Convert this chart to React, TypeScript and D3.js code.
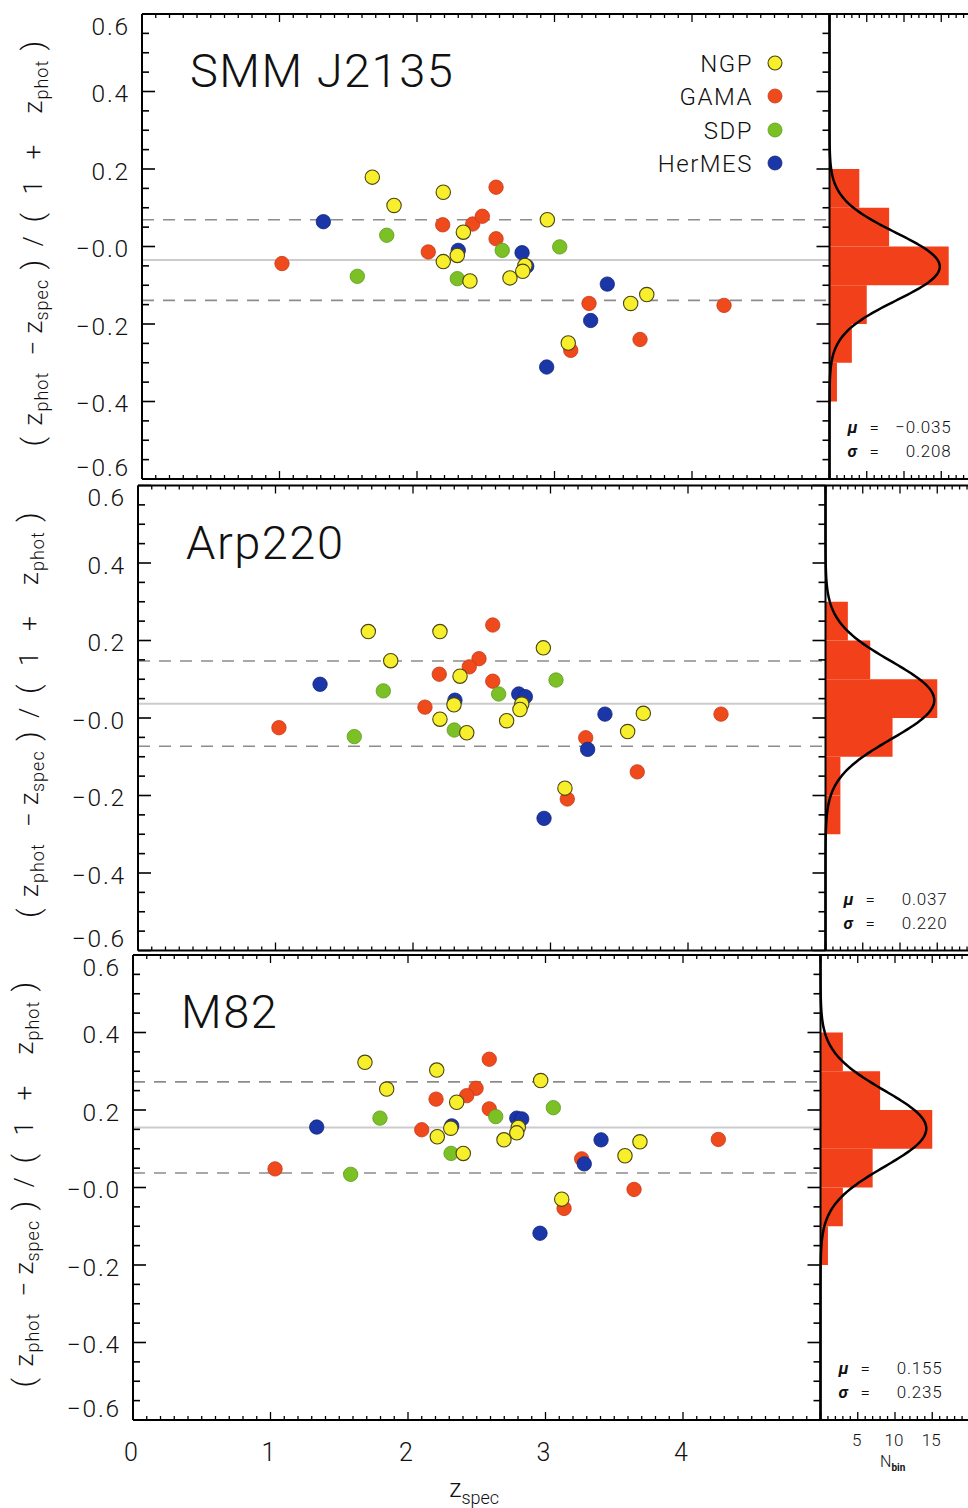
import React from "react";
import * as d3 from "d3";

// ---------- DATA (z_spec, (z_phot - z_spec)/(1+z_phot)) ----------
const smmNGP: [number, number][] = [
  [1.675, 0.179], [2.191, 0.14], [1.833, 0.106], [2.337, 0.037], [2.948, 0.069],
  [2.293, -0.023], [2.191, -0.039], [2.785, -0.049], [2.769, -0.064], [2.385, -0.089],
  [2.676, -0.081], [3.554, -0.147], [3.671, -0.124], [3.1, -0.249],
];
const smmGAMA: [number, number][] = [
  [2.575, 0.153], [2.187, 0.056], [2.405, 0.058], [2.475, 0.078], [2.575, 0.02],
  [2.082, -0.014], [1.018, -0.044], [3.251, -0.147], [4.233, -0.152], [3.622, -0.24],
  [3.118, -0.268],
];
const smmSDP: [number, number][] = [
  [1.78, 0.029], [2.62, -0.01], [3.038, -0.001], [1.566, -0.077], [2.293, -0.083],
];
const smmHerMES: [number, number][] = [
  [1.319, 0.064], [2.764, -0.016], [2.3, -0.01], [2.798, -0.051], [3.384, -0.097],
  [3.263, -0.191], [2.943, -0.311],
];

const arpNGP: [number, number][] = [
  [1.675, 0.223], [2.196, 0.223], [2.948, 0.181], [1.838, 0.148], [2.342, 0.108],
  [2.298, 0.034], [2.791, 0.036], [2.778, 0.022], [2.196, -0.003], [2.681, -0.007],
  [2.391, -0.038], [3.675, 0.012], [3.561, -0.035], [3.105, -0.181],
];
const arpGAMA: [number, number][] = [
  [2.58, 0.24], [2.48, 0.153], [2.409, 0.132], [2.191, 0.113], [2.58, 0.095],
  [2.087, 0.028], [1.025, -0.025], [4.24, 0.01], [3.256, -0.051], [3.631, -0.139],
  [3.122, -0.209],
];
const arpSDP: [number, number][] = [
  [1.784, 0.07], [3.04, 0.098], [2.623, 0.062], [2.3, -0.031], [1.573, -0.048],
];
const arpHerMES: [number, number][] = [
  [1.324, 0.087], [2.769, 0.062], [2.817, 0.055], [2.305, 0.046], [3.396, 0.01],
  [3.27, -0.081], [2.953, -0.259],
];

const m82NGP: [number, number][] = [
  [1.687, 0.323], [2.209, 0.303], [2.965, 0.276], [1.845, 0.254], [2.354, 0.22],
  [2.311, 0.153], [2.802, 0.155], [2.791, 0.141], [2.213, 0.131], [2.698, 0.123],
  [3.687, 0.118], [2.402, 0.088], [3.578, 0.082], [3.118, -0.03],
];
const m82GAMA: [number, number][] = [
  [2.591, 0.331], [2.495, 0.256], [2.427, 0.237], [2.204, 0.228], [2.591, 0.203],
  [2.1, 0.149], [4.257, 0.124], [3.263, 0.074], [1.033, 0.048], [3.644, -0.005],
  [3.135, -0.054],
];
const m82SDP: [number, number][] = [
  [3.057, 0.206], [2.638, 0.183], [1.796, 0.179], [2.313, 0.088], [1.583, 0.034],
];
const m82HerMES: [number, number][] = [
  [2.791, 0.179], [2.827, 0.177], [1.336, 0.156], [2.318, 0.159], [3.404, 0.123],
  [3.282, 0.061], [2.96, -0.118],
];

const panelNames = ["SMM J2135", "Arp220", "M82"];
const muValues = [-0.035, 0.037, 0.155];
const sigmaValues = [0.208, 0.22, 0.235];
const muLabels = ["\u22120.035", "0.037", "0.155"];
const sigmaLabels = ["0.208", "0.220", "0.235"];
// fitted gaussian drawn on histogram: [amplitude, centre, width]
const gaussFits = [
  [14.8, -0.052, 0.087],
  [14.6, 0.046, 0.1],
  [14.2, 0.152, 0.098],
];

const surveyNames = ["NGP", "GAMA", "SDP", "HerMES"];
const xTicks = [0, 1, 2, 3, 4];
const yTicks = [0.6, 0.4, 0.2, 0, -0.2, -0.4, -0.6];
const yTickLabels = ["0.6", "0.4", "0.2", "\u22120.0", "\u22120.2", "\u22120.4", "\u22120.6"];
const histTicks = [5, 10, 15];
const binEdges = [-6, -5, -4, -3, -2, -1, 0, 1, 2, 3, 4, 5, 6].map((v) => v / 10);

const panelData = [
  { NGP: smmNGP, GAMA: smmGAMA, SDP: smmSDP, HerMES: smmHerMES },
  { NGP: arpNGP, GAMA: arpGAMA, SDP: arpSDP, HerMES: arpHerMES },
  { NGP: m82NGP, GAMA: m82GAMA, SDP: m82SDP, HerMES: m82HerMES },
];

// y-axis title pieces: [text, offset along axis, kind] kind: 0 normal, 1 subscript, 2 paren
const yTitleParts: [string, number, number][] = [
  ["(", 0, 2], ["z", 21, 0], ["phot", 35, 1], ["\u2212", 91, 0],
  ["z", 113, 0], ["spec", 126, 1], [")", 177, 2], ["/", 200, 0],
  ["(", 224, 2], ["1", 252, 0], ["+", 287, 0], ["z", 333, 0],
  ["phot", 347, 1], [")", 396, 2],
];

// ---------- STYLE / LAYOUT ----------
const surveyStyle: Record<string, { fill: string; stroke: string; sw: number }> = {
  NGP: { fill: "#f8ef2c", stroke: "#4a4410", sw: 1.1 },
  GAMA: { fill: "#ef4a1c", stroke: "#c8391a", sw: 0.8 },
  SDP: { fill: "#7bc125", stroke: "#5c9a1c", sw: 0.8 },
  HerMES: { fill: "#1b36a6", stroke: "#122680", sw: 0.8 },
};
const drawOrder = ["GAMA", "SDP", "HerMES", "NGP"];
const layouts = [
  { left: 142, top: 14, bottom: 479 },
  { left: 138, top: 485.5, bottom: 950.5 },
  { left: 133, top: 955, bottom: 1420 },
];
const FONT = "Roboto, 'Liberation Sans', Arial, sans-serif";
const FW = 300;

function Panel({ idx }: { idx: number }) {
  const L = layouts[idx];
  const data = panelData[idx] as Record<string, [number, number][]>;
  const x = d3.scaleLinear().domain([0, 5]).range([L.left, L.left + 687.5]);
  const y = d3.scaleLinear().domain([-0.6, 0.6]).range([L.bottom, L.top]);
  const right = x(5);
  const h = d3.scaleLinear().domain([0, 20]).range([right, right + 149]);

  const allY: number[] = [];
  surveyNames.forEach((s) => data[s].forEach((d) => allY.push(d[1])));
  const bins = d3.bin().domain([-0.6, 0.6]).thresholds(binEdges)(allY);

  const [amp, cen, sd] = gaussFits[idx];
  const gy = d3.range(-600, 601, 4).map((v) => v / 1000);
  const gaussPath = d3
    .line<number>()
    .x((v) => h(amp * Math.exp(-((v - cen) ** 2) / (2 * sd * sd))))
    .y((v) => y(v))(gy);

  const mu = muValues[idx];
  const sig = sigmaValues[idx];

  const yMinor = d3.range(-12, 13).map((v) => v * 0.05);
  const xMinor = d3.range(0, 51).map((v) => v / 10);
  const hMinor = d3.range(0, 21);

  const isBottom = idx === 2;
  const mid = (L.top + L.bottom) / 2;

  return (
    <g>
      {/* mean and +/- sigma/2 lines */}
      <line x1={L.left} x2={right} y1={y(mu)} y2={y(mu)} stroke="#cccccc" strokeWidth={2} />
      <line x1={L.left} x2={right} y1={y(mu + sig / 2)} y2={y(mu + sig / 2)} stroke="#8c8c8c" strokeWidth={1.6} strokeDasharray="12 9" />
      <line x1={L.left} x2={right} y1={y(mu - sig / 2)} y2={y(mu - sig / 2)} stroke="#8c8c8c" strokeWidth={1.6} strokeDasharray="12 9" />

      {/* histogram */}
      {bins.filter((b) => b.length > 0).map((b, i) => (
        <rect key={i} x={right} y={y(b.x1 as number)} width={h(b.length) - right}
          height={y(b.x0 as number) - y(b.x1 as number)} fill="#f2401a" />
      ))}
      <path d={gaussPath || ""} fill="none" stroke="#000" strokeWidth={2.5} />

      {/* points */}
      {drawOrder.map((s) =>
        data[s].map((d, i) => (
          <circle key={s + i} cx={x(d[0])} cy={y(d[1])} r={7.2}
            fill={surveyStyle[s].fill} stroke={surveyStyle[s].stroke} strokeWidth={surveyStyle[s].sw} />
        ))
      )}

      {/* frame */}
      <line x1={L.left} x2={968} y1={L.top} y2={L.top} stroke="#000" strokeWidth={2} />
      <line x1={L.left} x2={968} y1={L.bottom} y2={L.bottom} stroke="#000" strokeWidth={2} />
      <line x1={L.left} x2={L.left} y1={L.top} y2={L.bottom} stroke="#000" strokeWidth={2} />
      <line x1={right} x2={right} y1={L.top} y2={L.bottom} stroke="#000" strokeWidth={2} />

      {/* y ticks (left axis, and right axis of scatter pointing inward) */}
      {yMinor.map((v, i) => {
        const major = Math.abs(Math.round(v * 100) % 20) === 0;
        const len = major ? 13 : 7;
        return (
          <g key={"yt" + i}>
            <line x1={L.left} x2={L.left + len} y1={y(v)} y2={y(v)} stroke="#000" strokeWidth={1.6} />
            <line x1={right} x2={right - len} y1={y(v)} y2={y(v)} stroke="#000" strokeWidth={1.6} />
          </g>
        );
      })}
      {/* x ticks */}
      {xMinor.map((v, i) => {
        const len = i % 10 === 0 ? 8 : 4;
        return (
          <g key={"xt" + i}>
            <line x1={x(v)} x2={x(v)} y1={L.bottom} y2={L.bottom - len} stroke="#000" strokeWidth={1.3} />
            <line x1={x(v)} x2={x(v)} y1={L.top} y2={L.top + len} stroke="#000" strokeWidth={1.3} />
          </g>
        );
      })}
      {hMinor.map((v, i) => {
        const len = v % 5 === 0 ? 8 : 4;
        return (
          <g key={"ht" + i}>
            <line x1={h(v)} x2={h(v)} y1={L.bottom} y2={L.bottom - len} stroke="#000" strokeWidth={1.3} />
            <line x1={h(v)} x2={h(v)} y1={L.top} y2={L.top + len} stroke="#000" strokeWidth={1.3} />
          </g>
        );
      })}

      {/* y tick labels */}
      {yTicks.map((v, i) => {
        let cy = y(v) + 2;
        if (i === 0) cy = L.top + 12;
        if (i === yTicks.length - 1) cy = L.bottom - 12;
        return (
          <text key={"yl" + i} x={L.left - 12} y={cy + 8.5} textAnchor="end" fontSize={24.5}
            fontFamily={FONT} fontWeight={FW} letterSpacing={1.8} fill="#111">
            {yTickLabels[i]}
          </text>
        );
      })}

      {/* y axis title */}
      <g transform={`translate(${L.left - 100},${mid + 200}) rotate(-90)`} fontFamily={FONT}
        fontWeight={FW} fill="#111">
        {yTitleParts.map(([t, off, kind], i) => (
          <text key={"yp" + i} x={off} y={kind === 1 ? 6 : kind === 2 ? 1 : 0}
            fontSize={kind === 1 ? 18 : kind === 2 ? 30 : 26} letterSpacing={kind === 1 ? 1 : 0}>
            {t}
          </text>
        ))}
      </g>

      {/* panel title */}
      <text x={L.left + 48} y={L.top + 73} fontSize={47} fontFamily={FONT} fontWeight={FW}
        letterSpacing={1.5} fill="#111">
        {panelNames[idx]}
      </text>

      {/* stats */}
      <g fontFamily={FONT} fontSize={17} fill="#111">
        <text x={right + 18} y={L.bottom - 46} fontStyle="italic" fontWeight="bold">{"\u03bc"}</text>
        <text x={right + 40} y={L.bottom - 46} fontWeight={FW}>=</text>
        <text x={right + 122} y={L.bottom - 46} textAnchor="end" letterSpacing={0.8} fontWeight={FW}>{muLabels[idx]}</text>
        <text x={right + 18} y={L.bottom - 22} fontStyle="italic" fontWeight="bold">{"\u03c3"}</text>
        <text x={right + 40} y={L.bottom - 22} fontWeight={FW}>=</text>
        <text x={right + 122} y={L.bottom - 22} textAnchor="end" letterSpacing={0.8} fontWeight={FW}>{sigmaLabels[idx]}</text>
      </g>

      {isBottom && (
        <g fontFamily={FONT} fontWeight={FW} fill="#111">
          {xTicks.map((v) => (
            <text key={"xl" + v} x={x(v) - 2} y={L.bottom + 41} textAnchor="middle" fontSize={25}>
              {v}
            </text>
          ))}
          {histTicks.map((v) => (
            <text key={"hl" + v} x={h(v) - 1} y={L.bottom + 26} textAnchor="middle" fontSize={17}>
              {v}
            </text>
          ))}
          <text x={x(2.3)} y={1497} fontSize={25}>
            z<tspan fontSize={18} dy={7}>spec</tspan>
          </text>
          <text x={880} y={1467} fontSize={16}>
            N<tspan fontSize={10} fontWeight="bold" dy={4}>bin</tspan>
          </text>
        </g>
      )}
    </g>
  );
}

function Legend() {
  const rows = [63, 96, 130, 163];
  return (
    <g fontFamily={FONT} fontWeight={FW}>
      {surveyNames.map((s, i) => (
        <g key={s}>
          <text x={753} y={rows[i] + 8.5} textAnchor="end" fontSize={24} letterSpacing={1.5} fill="#111">
            {s}
          </text>
          <circle cx={775} cy={rows[i]} r={7} fill={surveyStyle[s].fill} stroke={surveyStyle[s].stroke}
            strokeWidth={surveyStyle[s].sw} />
        </g>
      ))}
    </g>
  );
}

export default function App() {
  return (
    <svg width={968} height={1508} viewBox="0 0 968 1508"
      style={{ position: "absolute", left: 0, top: 0, background: "#fff" }}>
      <rect x={0} y={0} width={968} height={1508} fill="#fff" />
      {[0, 1, 2].map((i) => (
        <Panel key={i} idx={i} />
      ))}
      <Legend />
    </svg>
  );
}
